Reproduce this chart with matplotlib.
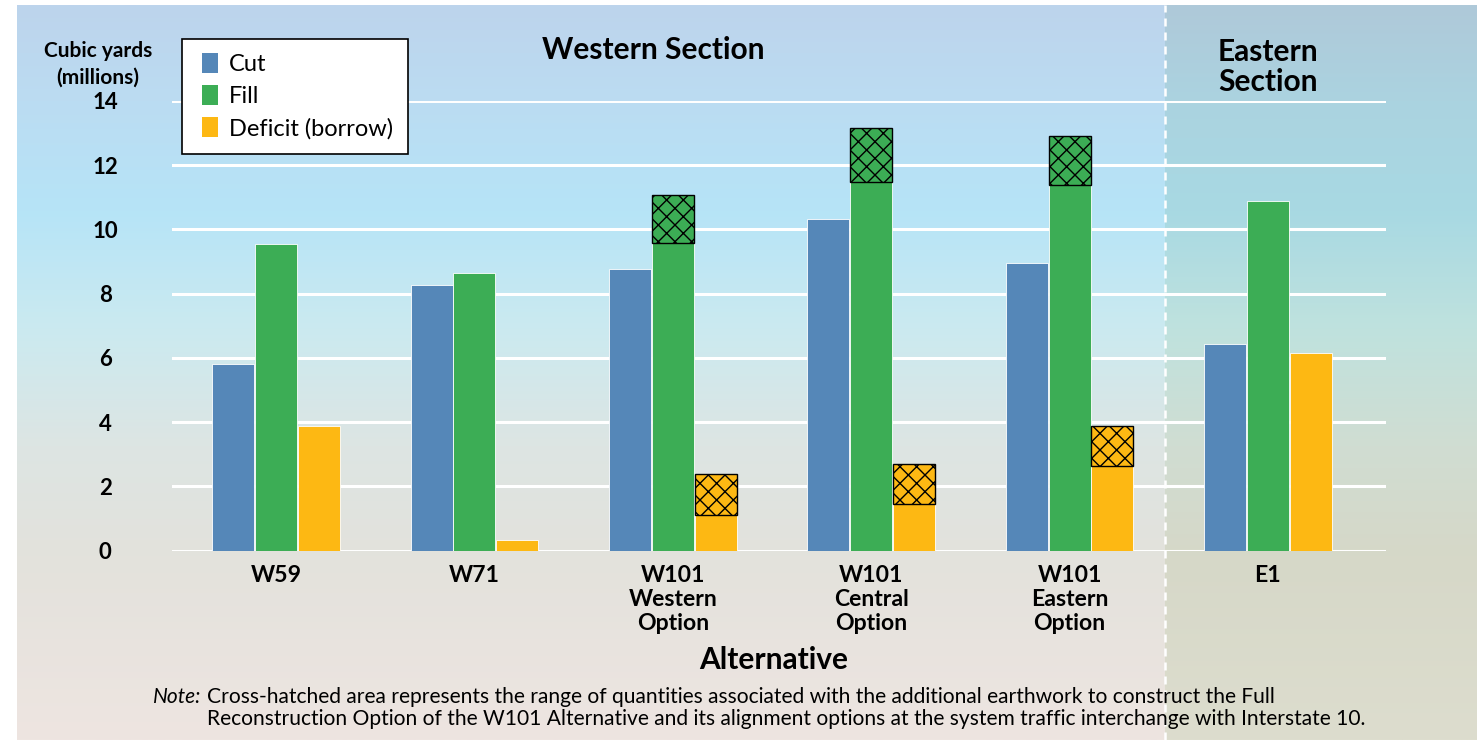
import numpy as np
import matplotlib
matplotlib.use('Agg')
import matplotlib.pyplot as plt
from matplotlib.lines import Line2D
from matplotlib.path import Path

plt.rcParams['font.family'] = ['Lato', 'DejaVu Sans']
plt.rcParams['hatch.linewidth'] = 1.0

# data (millions of cubic yards)
groups = ["W59", "W71", "W101\nWestern\nOption", "W101\nCentral\nOption",
          "W101\nEastern\nOption", "E1"]
cut = [5.8, 8.27, 8.77, 10.32, 8.96, 6.44]
fill = [9.55, 8.64, 9.58, 11.47, 11.38, 10.88]
deficit = [3.88, 0.33, 1.11, 1.45, 2.64, 6.15]
# with Full Reconstruction Option (cross-hatched range), None = n/a
fill_full = [None, None, 11.07, 13.15, 12.91, None]
deficit_full = [None, None, 2.39, 2.70, 3.88, None]
yticks = [0, 2, 4, 6, 8, 10, 12, 14]

c_cut = '#5587B8'
c_fill = '#3CAD55'
c_def = '#FDB813'

W, H = 1477, 747
fig = plt.figure(figsize=(W / 100, H / 100), dpi=100)

# background gradient
bg = fig.add_axes([0, 0, 1, 1], zorder=-1)
bg.set_xlim(0, W)
bg.set_ylim(H, 0)
bg.axis('off')

def gradient(stops, cols, n=400):
    ys = np.linspace(0, 1, n)
    rgb = np.array([matplotlib.colors.to_rgb(c) for c in cols])
    img = np.stack([np.interp(ys, stops, rgb[:, k]) for k in range(3)], axis=-1)
    return img[:, None, :]

west_stops = [0.0, 0.13, 0.28, 0.44, 0.6, 0.75, 1.0]
west_cols = ['#BDD4EC', '#BBDCF2', '#B6E4F7', '#CBEAF0', '#DDE5E3', '#E3E2DC', '#EEE5E1']
east_cols = ['#AFC9D9', '#ABD3E0', '#A8D9E3', '#BFE2DE', '#D0DDD2', '#D6D8C8', '#DDDDCE']
bg.imshow(gradient(west_stops, west_cols), extent=[17, W, 740, 5], aspect='auto')
bg.imshow(gradient(west_stops, east_cols), extent=[1165, W, 740, 5], aspect='auto')

# main axes
ax = fig.add_axes([172 / W, (H - 550.7) / H, (1386 - 172) / W, (550.7 - 101) / H])
ax.patch.set_alpha(0)
x = np.arange(len(groups))
sp = 198.4
ax.set_xlim((172 - 276) / sp, (1386 - 276) / sp)
ax.set_ylim(0, 14)

bw = 0.212
off = 0.216
ax.bar(x - off, cut, bw, color=c_cut, edgecolor='white', linewidth=0.6, zorder=3)
ax.bar(x, fill, bw, color=c_fill, edgecolor='white', linewidth=0.6, zorder=3)
ax.bar(x + off, deficit, bw, color=c_def, edgecolor='white', linewidth=0.6, zorder=3)

for i in range(len(groups)):
    if fill_full[i] is not None:
        ax.bar(x[i], fill_full[i] - fill[i], bw, bottom=fill[i], color=c_fill,
               edgecolor='black', linewidth=1.0, hatch='xx', zorder=4)
    if deficit_full[i] is not None:
        ax.bar(x[i] + off, deficit_full[i] - deficit[i], bw, bottom=deficit[i], color=c_def,
               edgecolor='black', linewidth=1.0, hatch='xx', zorder=4)

ax.set_yticks(yticks)
ax.set_yticklabels([str(v) for v in yticks], fontsize=16, fontweight='bold', ha='center')
ax.set_xticks(x)
ax.set_xticklabels(groups, fontsize=16.6, fontweight='bold', linespacing=1.2)
ax.tick_params(axis='y', length=0, pad=48)
ax.tick_params(axis='x', length=0, pad=10)
ax.grid(axis='y', color='white', linewidth=2.2, zorder=1)
ax.set_axisbelow(True)
for s in ax.spines.values():
    s.set_visible(False)

# section divider
ax.axvline(4.48, ymin=(550.7 - 740) / 449.7, ymax=(550.7 - 5) / 449.7, color='white',
           linewidth=1.8, linestyle=(0, (3.2, 2.4)), clip_on=False, zorder=2)

# texts
fig.text(98 / W, 1 - 64 / H, "Cubic yards\n(millions)", ha='center', va='center',
         fontsize=15, fontweight='bold', linespacing=1.4)
fig.text(653 / W, 1 - 50 / H, "Western Section", ha='center', va='center',
         fontsize=21.5, fontweight='bold')
fig.text(1268 / W, 1 - 67 / H, "Eastern\nSection", ha='center', va='center',
         fontsize=21.5, fontweight='bold', linespacing=1.12)
fig.text(774 / W, 1 - 660 / H, "Alternative", ha='center', va='center',
         fontsize=21.5, fontweight='bold')
fig.text(153 / W, 1 - 697 / H, "Note:", ha='left', va='center', fontsize=15,
         style='italic')
fig.text(207 / W, 1 - 697 / H,
         "Cross-hatched area represents the range of quantities associated with the "
         "additional earthwork to construct the Full", ha='left', va='center', fontsize=15.1)
fig.text(207 / W, 1 - 719 / H,
         "Reconstruction Option of the W101 Alternative and its alignment options at the "
         "system traffic interchange with Interstate 10.", ha='left', va='center', fontsize=15.1)

# legend, tall rectangle swatches
rect = Path([(-0.75, -1), (0.75, -1), (0.75, 1), (-0.75, 1), (-0.75, -1)])
handles = [Line2D([], [], linestyle='none', marker=rect, markersize=14.5,
                  markerfacecolor=c, markeredgewidth=0, label=l)
           for c, l in [(c_cut, 'Cut'), (c_fill, 'Fill'), (c_def, 'Deficit (borrow)')]]
leg = fig.legend(handles=handles, loc='upper left', bbox_to_anchor=(182 / W, 1 - 39 / H),
                 fontsize=17, frameon=True, fancybox=False, framealpha=1,
                 handlelength=1.11, handletextpad=0.23,
                 labelspacing=0.47, borderpad=0.63, borderaxespad=0)
leg.get_frame().set_edgecolor('black')
leg.get_frame().set_linewidth(1.2)

fig.savefig('out.png', dpi=100)
